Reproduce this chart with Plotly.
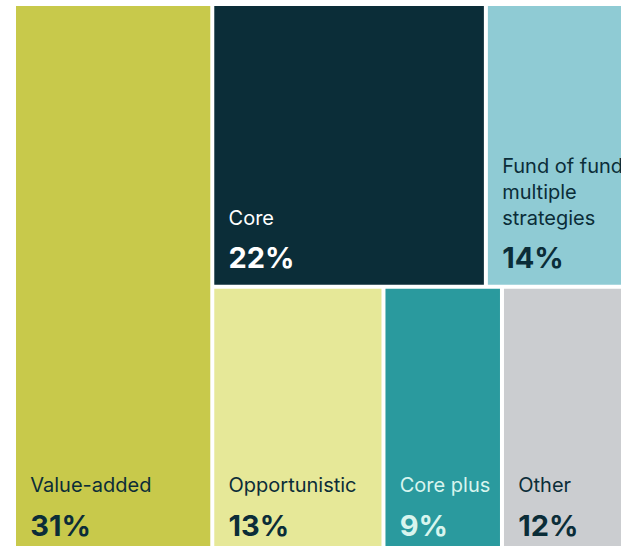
import plotly.graph_objects as go

# Strategy shares (%)
categories = ["Value-added", "Core", "Fund of funds/<br>multiple<br>strategies",
              "Opportunistic", "Core plus", "Other"]
shares = [31, 22, 14, 13, 9, 12]
# Layout groups: the right-hand block is split into an upper and a lower row
groups = ["", "upper", "upper", "lower", "lower", "lower"]
tile_colors = ["#c8c94b", "#0b2d38", "#8fcbd4", "#e6e898", "#2a9a9e", "#cbcdd0"]
text_colors = ["#0b2d38", "#ffffff", "#0b2d38", "#0b2d38", "#d8f5ee", "#0b2d38"]

# Structural (unlabelled) nodes
group_ids = ["right", "upper", "lower"]
group_parents = ["", "right", "right"]

ids = [c.replace("<br>", " ") for c in categories] + group_ids
parents = groups + group_parents
values = shares + [0, 0, 0]
colors = tile_colors + ["#ffffff"] * 3
tcolors = text_colors + ["#ffffff"] * 3

INDENT = "&nbsp;&nbsp;"


def tile_text(label, share):
    lines = [INDENT + part for part in label.split("<br>")]
    # blank spacer line, then the share raised slightly
    pct = (INDENT + "<sup><b><span style='font-size:29px'>"
           f"{share}%</span></b></sup>")
    return "<br>".join(lines) + "<br> <br>" + pct


texts = [tile_text(c, s) for c, s in zip(categories, shares)] + [""] * 3

fig = go.Figure(go.Treemap(
    ids=ids,
    labels=ids,
    parents=parents,
    values=values,
    branchvalues="remainder",
    sort=False,
    text=texts,
    texttemplate="%{text}",
    textposition="bottom left",
    textfont=dict(family="Inter, sans-serif", size=20, color=tcolors),
    marker=dict(colors=colors, line=dict(width=0),
                pad=dict(t=0, l=0, r=0, b=0)),
    tiling=dict(packing="slice-dice", pad=4),
    pathbar=dict(visible=False),
    hoverinfo="skip",
    root=dict(color="#ffffff"),
))

# The treemap runs past the right and bottom edges of the page view
fig.update_layout(
    width=658, height=552,
    margin=dict(l=16, r=0, t=6, b=0),
    paper_bgcolor="#ffffff",
    uniformtext=dict(minsize=20, mode="show"),
)

fig.write_html(
    "out.html",
    post_script="document.documentElement.style.overflow='hidden';"
                "document.body.style.overflow='hidden';",
)
